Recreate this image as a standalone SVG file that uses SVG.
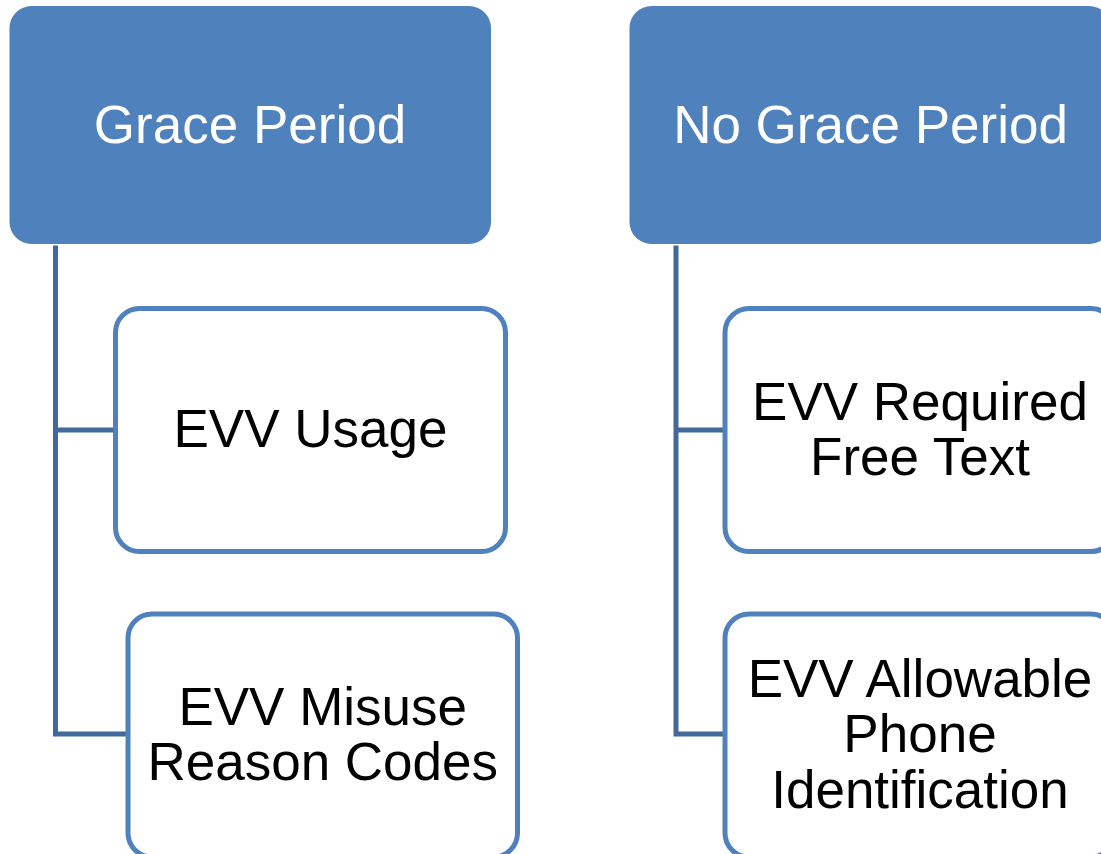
<svg xmlns="http://www.w3.org/2000/svg" width="1101" height="854" viewBox="0 0 1101 854">
  <style>
    .head { fill: #4F81BD; }
    .child { fill: #FFFFFF; stroke: #4F81BD; stroke-width: 5; }
    .link { fill: none; stroke: #41699B; stroke-width: 5; stroke-linecap: square; }
    .ht { font-family: "Liberation Sans", Arial, sans-serif; font-size: 53px; fill: #FFFFFF; text-anchor: middle; }
    .ct { font-family: "Liberation Sans", Arial, sans-serif; font-size: 53px; fill: #000000; text-anchor: middle; }
  </style>
  <rect width="1101" height="854" fill="#FFFFFF"/>

  <!-- tree connectors -->
  <g id="connectors">
    <path class="link" d="M55.5,248 V734 H126 M55.5,430 H113"/>
    <path class="link" d="M676,248 V734 H723 M676,430 H723"/>
  </g>

  <g id="grace-period">
    <rect class="head" x="9.5" y="6" width="481.5" height="238" rx="22"/>
    <text class="ht" x="250" y="143">Grace Period</text>
  </g>

  <g id="no-grace-period">
    <rect class="head" x="629.5" y="6" width="481.5" height="238" rx="22"/>
    <text class="ht" x="870.5" y="143">No Grace Period</text>
  </g>

  <g id="evv-usage">
    <rect class="child" x="115.5" y="308.5" width="390" height="243" rx="24"/>
    <text class="ct" x="310.5" y="446.5">EVV Usage</text>
  </g>

  <g id="evv-misuse">
    <rect class="child" x="128" y="614" width="389.5" height="243" rx="24"/>
    <text class="ct" x="322.75" y="725">EVV Misuse</text>
    <text class="ct" x="322.75" y="779.5">Reason Codes</text>
  </g>

  <g id="evv-required">
    <rect class="child" x="725" y="308.5" width="390" height="243" rx="24"/>
    <text class="ct" x="920" y="419.5">EVV Required</text>
    <text class="ct" x="920" y="474.5">Free Text</text>
  </g>

  <g id="evv-allowable">
    <rect class="child" x="725" y="614" width="390" height="243" rx="24"/>
    <text class="ct" x="920" y="697">EVV Allowable</text>
    <text class="ct" x="920" y="752">Phone</text>
    <text class="ct" x="920" y="807.5">Identification</text>
  </g>
</svg>
